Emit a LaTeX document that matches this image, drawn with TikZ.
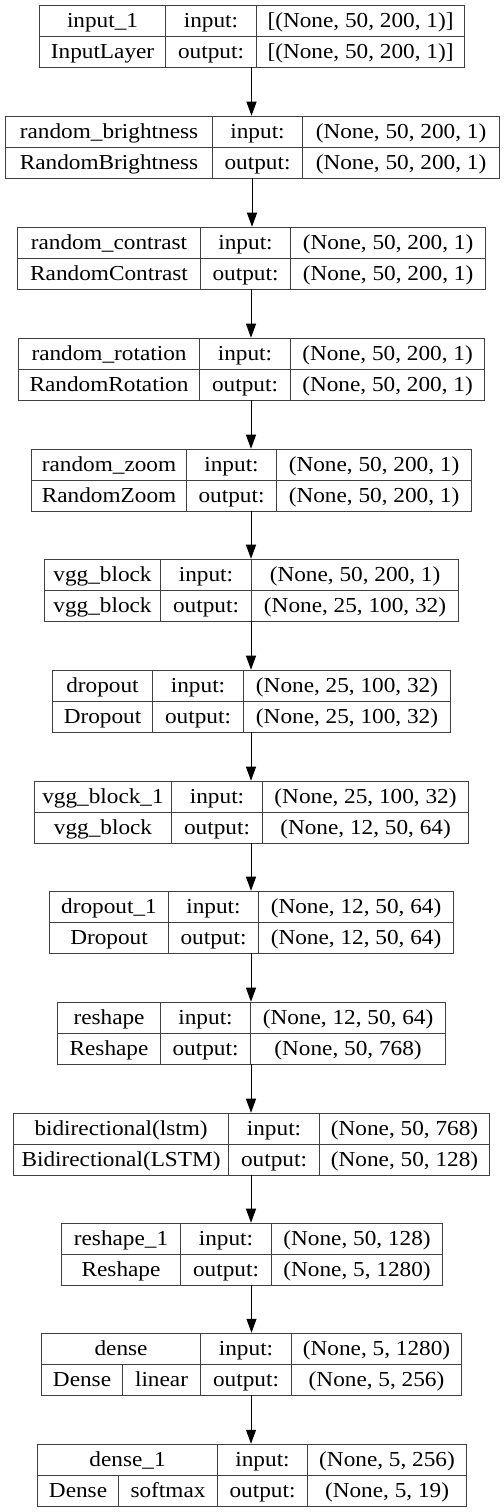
\documentclass[tikz,border=0pt]{standalone}
\usepackage{fontspec}
\setmainfont{Liberation Serif}[FakeStretch=1.09]
\usetikzlibrary{arrows.meta}
\definecolor{boxline}{RGB}{64, 64, 64}
\tikzstyle{frame} = [rectangle, inner sep=0pt, minimum height=46.5pt]
\tikzstyle{cell} = [rectangle, draw=boxline, line width=0.8pt, inner sep=0pt, minimum height=23.25pt, anchor=north west, text height=12pt, text depth=2.7pt, font=\fontsize{16}{18}\selectfont]
\tikzstyle{arrow} = [line width=0.75pt, -{Triangle[length=10.5pt, width=7.5pt]}]

% columns of a layer box: left, first split, second split, right (pixels)
\def\boxcols#1,#2,#3,#4\relax{\def\boxL{#1}\def\boxA{#2}\def\boxB{#3}\def\boxR{#4}}
% name, top, columns, layer name, class, input shape, output shape
\newcommand{\layerbox}[7]{%
  \boxcols#3\relax
  \node[frame, minimum width={(\boxR-\boxL)*0.75pt}] (#1) at ({(\boxL+\boxR)/2}, {#2+31}) {};
  \node[cell, minimum width={(\boxA-\boxL)*0.75pt}] (#1-name) at (\boxL, #2) {#4};
  \node[cell, minimum width={(\boxB-\boxA)*0.75pt}] (#1-inlbl) at (\boxA, #2) {input:};
  \node[cell, minimum width={(\boxR-\boxB)*0.75pt}] (#1-in) at (\boxB, #2) {#6};
  \node[cell, minimum width={(\boxA-\boxL)*0.75pt}] (#1-class) at (\boxL, {#2+31}) {#5};
  \node[cell, minimum width={(\boxB-\boxA)*0.75pt}] (#1-outlbl) at (\boxA, {#2+31}) {output:};
  \node[cell, minimum width={(\boxR-\boxB)*0.75pt}] (#1-out) at (\boxB, {#2+31}) {#7};
}

\begin{document}
\begin{tikzpicture}[x=0.75pt, y=-0.75pt]
\useasboundingbox[fill=white] (0,0) rectangle (503,1512);

% Layers
\layerbox{inputlayer}{5}{39,165,256,464}{input\_1}{InputLayer}{[(None, 50, 200, 1)]}{[(None, 50, 200, 1)]}
\layerbox{brightness}{116}{5,212,302,499}{random\_brightness}{RandomBrightness}{(None, 50, 200, 1)}{(None, 50, 200, 1)}
\layerbox{contrast}{227}{17,200,290,485}{random\_contrast}{RandomContrast}{(None, 50, 200, 1)}{(None, 50, 200, 1)}
\layerbox{rotation}{338}{18,199,290,484}{random\_rotation}{RandomRotation}{(None, 50, 200, 1)}{(None, 50, 200, 1)}
\layerbox{zoom}{449}{31,186,276,471}{random\_zoom}{RandomZoom}{(None, 50, 200, 1)}{(None, 50, 200, 1)}
\layerbox{vgg}{559}{44,160,251,458}{vgg\_block}{vgg\_block}{(None, 50, 200, 1)}{(None, 25, 100, 32)}
\layerbox{dropout}{670}{52,152,243,450}{dropout}{Dropout}{(None, 25, 100, 32)}{(None, 25, 100, 32)}
\layerbox{vggone}{781}{34,171,262,468}{vgg\_block\_1}{vgg\_block}{(None, 25, 100, 32)}{(None, 12, 50, 64)}
\layerbox{dropoutone}{891}{49,168,258,453}{dropout\_1}{Dropout}{(None, 12, 50, 64)}{(None, 12, 50, 64)}
\layerbox{reshape}{1002}{57,160,250,445}{reshape}{Reshape}{(None, 12, 50, 64)}{(None, 50, 768)}
\layerbox{bilstm}{1113}{13,228,319,489}{bidirectional(lstm)}{Bidirectional(LSTM)}{(None, 50, 768)}{(None, 50, 128)}
\layerbox{reshapeone}{1223}{61,180,271,442}{reshape\_1}{Reshape}{(None, 50, 128)}{(None, 5, 1280)}
\layerbox{dense}{1333}{41,200,291,461}{dense}{}{(None, 5, 1280)}{(None, 5, 256)}
\layerbox{denseone}{1444}{37,217,307,466}{dense\_1}{}{(None, 5, 256)}{(None, 5, 19)}

% Dense rows split into class and activation
\node[cell, minimum width={81*0.75pt}] (dense-type) at (41,1364) {Dense};
\node[cell, minimum width={78*0.75pt}] (dense-act) at (122,1364) {linear};
\node[cell, minimum width={81*0.75pt}] (denseone-type) at (37,1475) {Dense};
\node[cell, minimum width={99*0.75pt}] (denseone-act) at (118,1475) {softmax};

% Arrows
\draw [arrow] (inputlayer.south) -- (inputlayer.south |- brightness.north);
\draw [arrow] (brightness.south) -- (brightness.south |- contrast.north);
\draw [arrow] (contrast.south) -- (contrast.south |- rotation.north);
\draw [arrow] (rotation.south) -- (rotation.south |- zoom.north);
\draw [arrow] (zoom.south) -- (zoom.south |- vgg.north);
\draw [arrow] (vgg.south) -- (vgg.south |- dropout.north);
\draw [arrow] (dropout.south) -- (dropout.south |- vggone.north);
\draw [arrow] (vggone.south) -- (vggone.south |- dropoutone.north);
\draw [arrow] (dropoutone.south) -- (dropoutone.south |- reshape.north);
\draw [arrow] (reshape.south) -- (reshape.south |- bilstm.north);
\draw [arrow] (bilstm.south) -- (bilstm.south |- reshapeone.north);
\draw [arrow] (reshapeone.south) -- (reshapeone.south |- dense.north);
\draw [arrow] (dense.south) -- (dense.south |- denseone.north);

\end{tikzpicture}
\end{document}
